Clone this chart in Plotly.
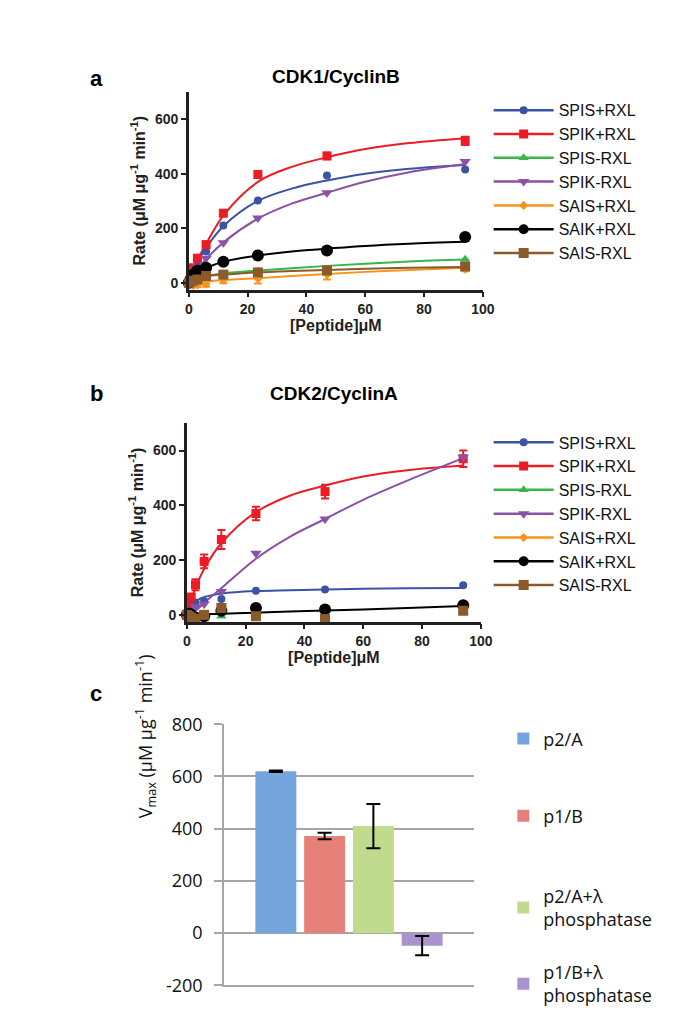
import plotly.graph_objects as go

W, H = 689, 1032
def px(x): return x / W
def py(y): return 1 - y / H

# ---------------- data ----------------
series = ["SPIS+RXL", "SPIK+RXL", "SPIS-RXL", "SPIK-RXL", "SAIS+RXL", "SAIK+RXL", "SAIS-RXL"]
colors = ["#3a53a4", "#ed1c24", "#39b54a", "#8b51a5", "#f7941d", "#000000", "#8b5a2b"]
symbols = ["circle", "square", "triangle-up", "triangle-down", "diamond", "circle", "square"]
msizes = [8, 9, 9, 10, 7, 12, 10]

conc = [0, 0.73, 1.47, 2.94, 5.88, 11.75, 23.5, 47, 94]

# Panel a: CDK1/CyclinB measured rates
a_SPIS_pos = [5, 25, 50, 80, 115, 210, 302, 393, 415]
a_SPIK_pos = [0, 30, 55, 90, 140, 255, 397, 465, 520]
a_SPIS_neg = [0, 5, 10, 18, 28, 32, 42, 50, 86]
a_SPIK_neg = [0, 15, 30, 60, 90, 147, 237, 330, 445]
a_SAIS_pos = [0, -5, -10, -8, -5, 10, 15, 30, 50]
a_SAIK_pos = [0, 15, 30, 45, 55, 77, 100, 118, 168]
a_SAIS_neg = [0, 5, 8, 12, 25, 30, 38, 45, 60]
a_err = {
    "SPIK+RXL": [0, 3, 4, 6, 8, 8, 12, 12, 15],
    "SAIS+RXL": [0, 3, 5, 8, 10, 12, 18, 18, 8],
}

# Panel a fitted curves
curve_x = [0, 1.5, 3, 6, 12, 23.5, 35, 47, 60, 75, 94]
a_fit_SPIS_pos = [0, 40, 75, 130, 210, 300, 345, 375, 400, 418, 432]
a_fit_SPIK_pos = [0, 45, 85, 145, 250, 370, 425, 460, 490, 512, 530]
a_fit_SPIS_neg = [0, 8, 15, 25, 35, 45, 53, 62, 70, 78, 85]
a_fit_SPIK_neg = [0, 25, 48, 88, 150, 235, 290, 330, 370, 405, 435]
a_fit_SAIS_pos = [0, 1, 2, 5, 10, 17, 25, 32, 40, 47, 55]
a_fit_SAIK_pos = [0, 25, 40, 55, 78, 100, 115, 125, 135, 143, 150]
a_fit_SAIS_neg = [0, 8, 15, 25, 30, 38, 43, 47, 51, 55, 58]

# Panel b: CDK2/CyclinA measured rates
b_SPIS_pos = [5, 40, 45, 45, 50, 58, 88, 93, 108]
b_SPIK_pos = [0, 30, 65, 110, 195, 275, 370, 450, 570]
b_SPIS_neg = [0, -10, -10, -12, -15, -5, 0, -5, 8]
b_SPIK_neg = [0, 10, 20, 30, 40, 85, 225, 350, 575]
b_SAIS_pos = [0, -10, -15, -20, -5, 10, -5, -10, 15]
b_SAIK_pos = [0, 5, 0, -10, -5, 15, 25, 20, 35]
b_SAIS_neg = [0, -5, -10, -15, 0, 25, -5, -15, 15]
b_err = {
    "SPIK+RXL": [0, 5, 10, 20, 25, 35, 25, 25, 30],
    "SAIK+RXL": [0, 3, 3, 5, 5, 8, 8, 8, 10],
    "SAIS-RXL": [0, 3, 3, 5, 5, 10, 8, 8, 8],
}

# Panel b fitted curves
b_fit_SPIS_pos = [0, 38, 50, 65, 78, 87, 90, 93, 95, 97, 98]
b_fit_SPIK_pos = [0, 55, 100, 170, 265, 375, 435, 472, 505, 528, 545]
b_fit_SPIK_neg = [0, 5, 15, 45, 100, 205, 285, 350, 420, 490, 572]
b_fit_SAIK_pos = [0, 0.5, 1, 2, 4, 8, 12, 16, 20, 25, 32]

a_points = [a_SPIS_pos, a_SPIK_pos, a_SPIS_neg, a_SPIK_neg, a_SAIS_pos, a_SAIK_pos, a_SAIS_neg]
a_fits = [a_fit_SPIS_pos, a_fit_SPIK_pos, a_fit_SPIS_neg, a_fit_SPIK_neg, a_fit_SAIS_pos, a_fit_SAIK_pos, a_fit_SAIS_neg]
b_points = [b_SPIS_pos, b_SPIK_pos, b_SPIS_neg, b_SPIK_neg, b_SAIS_pos, b_SAIK_pos, b_SAIS_neg]
b_fits = [b_fit_SPIS_pos, b_fit_SPIK_pos, None, b_fit_SPIK_neg, None, b_fit_SAIK_pos, None]

# Panel c: Vmax bars
c_labels = ["p2/A", "p1/B", "p2/A+λ<br>phosphatase", "p1/B+λ<br>phosphatase"]
c_values = [620, 372, 410, -48]
c_errors = [3, 12, 85, 37]
c_colors = ["#74a5dc", "#e6817a", "#c0da8e", "#aa93cc"]
c_group = ["Vmax"]
c_ticks = [-200, 0, 200, 400, 600, 800]
c_ticktext = ["-200", "0", "200", "400", "600", "800"]

fig = go.Figure()

AX = "#231f20"

def add_panel(points, fits, errs, xa, ya, legend):
    for i, name in enumerate(series):
        if fits[i] is not None:
            fig.add_trace(go.Scatter(
                x=curve_x, y=fits[i], mode="lines", line=dict(color=colors[i], width=2, shape="spline"),
                showlegend=False, xaxis=xa, yaxis=ya, hoverinfo="skip", cliponaxis=False))
    for i, name in enumerate(series):
        e = errs.get(name)
        fig.add_trace(go.Scatter(
            x=conc, y=points[i], mode="markers",
            marker=dict(symbol=symbols[i], size=msizes[i], color=colors[i]),
            error_y=dict(type="data", array=e, color=colors[i], thickness=2, width=4, visible=e is not None),
            showlegend=False, xaxis=xa, yaxis=ya, cliponaxis=False))
    for i, name in enumerate(series):
        fig.add_trace(go.Scatter(
            x=[None], y=[None], mode="lines+markers", name=name,
            line=dict(color=colors[i], width=2.5),
            marker=dict(symbol=symbols[i], size=min(msizes[i], 10), color=colors[i]),
            xaxis=xa, yaxis=ya, legend=legend))

add_panel(a_points, a_fits, a_err, "x", "y", "legend")
add_panel(b_points, b_fits, b_err, "x2", "y2", "legend2")

for i in range(4):
    fig.add_trace(go.Bar(
        x=c_group, y=[c_values[i]], name=c_labels[i], marker=dict(color=c_colors[i], line=dict(width=0)),
        error_y=dict(type="data", array=[c_errors[i]], color="black", thickness=2, width=7),
        xaxis="x3", yaxis="y3", legend=f"legend{i + 3}"))

axis_font = dict(family="Liberation Sans, Arial", size=14, color=AX, weight="bold")
def xy_axes(xd, yd):
    xa = dict(domain=xd, range=[0, 100], tickvals=[0, 20, 40, 60, 80, 100], showline=True, linewidth=2.5,
              linecolor=AX, ticks="outside", ticklen=5, tickwidth=2, tickcolor=AX, showgrid=False,
              zeroline=False, tickfont=axis_font,
              title=dict(text="[Peptide]μM", font=dict(family="Liberation Sans, Arial", size=16, color=AX, weight="bold"), standoff=4))
    ya = dict(domain=yd, range=[-25, 700], tickvals=[0, 200, 400, 600], showline=True, linewidth=2.5,
              linecolor=AX, ticks="outside", ticklen=5, tickwidth=2, tickcolor=AX, showgrid=False,
              zeroline=False, tickfont=axis_font,
              title=dict(text="Rate (μM μg<sup>-1</sup> min<sup>-1</sup>)", font=dict(family="Liberation Sans, Arial", size=16, color=AX, weight="bold"), standoff=6))
    return xa, ya

xa1, ya1 = xy_axes([px(181), px(482)], [py(275), py(72.5)])
xa2, ya2 = xy_axes([px(179), px(480)], [py(615), py(411.7)])
ya1["anchor"] = "x"; xa1["anchor"] = "y"
xa2["anchor"] = "y2"; ya2["anchor"] = "x2"

GRID = "#a6a6a6"
xa3 = dict(domain=[px(217), px(473)], anchor="y3", showticklabels=False, showline=True, linecolor=GRID,
           linewidth=1.5, showgrid=False, zeroline=False, ticks="")
ya3 = dict(domain=[py(987.3), py(720)], anchor="x3", range=[-200, 800], tickvals=c_ticks, ticktext=c_ticktext,
           showline=True, linecolor=GRID, linewidth=1.5, ticks="outside", ticklen=8, tickcolor=GRID, tickwidth=1.5,
           ticklabelstandoff=8,
           showgrid=True, gridcolor=GRID, gridwidth=1.5, zeroline=True, zerolinecolor=GRID, zerolinewidth=1.5,
           tickfont=dict(family="Open Sans, Lato", size=18, color="#111"))

leg_common = dict(xanchor="left", yanchor="top", bgcolor="rgba(0,0,0,0)",
                  font=dict(family="Liberation Sans, Arial", size=16, color="#111"),
                  itemwidth=60, tracegroupgap=0, traceorder="normal")
legc = dict(xanchor="left", yanchor="top", bgcolor="rgba(0,0,0,0)",
            font=dict(family="Open Sans, Lato", size=18, color="#111"), itemwidth=30)

fig.update_layout(
    width=W, height=H, margin=dict(l=0, r=0, t=0, b=0), paper_bgcolor="white", plot_bgcolor="white",
    showlegend=True, barmode="group", bargap=0.22, bargroupgap=0.16,
    xaxis=xa1, yaxis=ya1, xaxis2=xa2, yaxis2=ya2, xaxis3=xa3, yaxis3=ya3,
    legend=dict(x=px(488), y=py(74), **leg_common),
    legend2=dict(x=px(488), y=py(414), **leg_common),
    legend3=dict(x=px(503), y=py(716), **legc),
    legend4=dict(x=px(503), y=py(795), **legc),
    legend5=dict(x=px(503), y=py(877), **legc),
    legend6=dict(x=px(503), y=py(955), **legc),
    annotations=[
        dict(text="<b>a</b>", x=px(78), y=py(44), xref="paper", yref="paper", showarrow=False,
             font=dict(family="Liberation Sans, Arial", size=22, color="black")),
        dict(text="<b>b</b>", x=px(78), y=py(381), xref="paper", yref="paper", showarrow=False,
             font=dict(family="Liberation Sans, Arial", size=22, color="black")),
        dict(text="<b>c</b>", x=px(78), y=py(688), xref="paper", yref="paper", showarrow=False,
             font=dict(family="Liberation Sans, Arial", size=22, color="black")),
        dict(text="<b>CDK1/CyclinB</b>", x=px(332), y=py(44), xref="paper", yref="paper", showarrow=False,
             font=dict(family="Liberation Sans, Arial", size=19, color="black")),
        dict(text="<b>CDK2/CyclinA</b>", x=px(330), y=py(381), xref="paper", yref="paper", showarrow=False,
             font=dict(family="Liberation Sans, Arial", size=19, color="black")),
        dict(text="V<sub>max</sub> (μM μg<sup>-1</sup> min<sup>-1</sup>)", x=px(120), y=py(818), xref="paper",
             yref="paper", showarrow=False, textangle=-90,
             font=dict(family="Open Sans, Lato", size=18, color="#111")),
    ],
)

fig.write_html("out.html")
